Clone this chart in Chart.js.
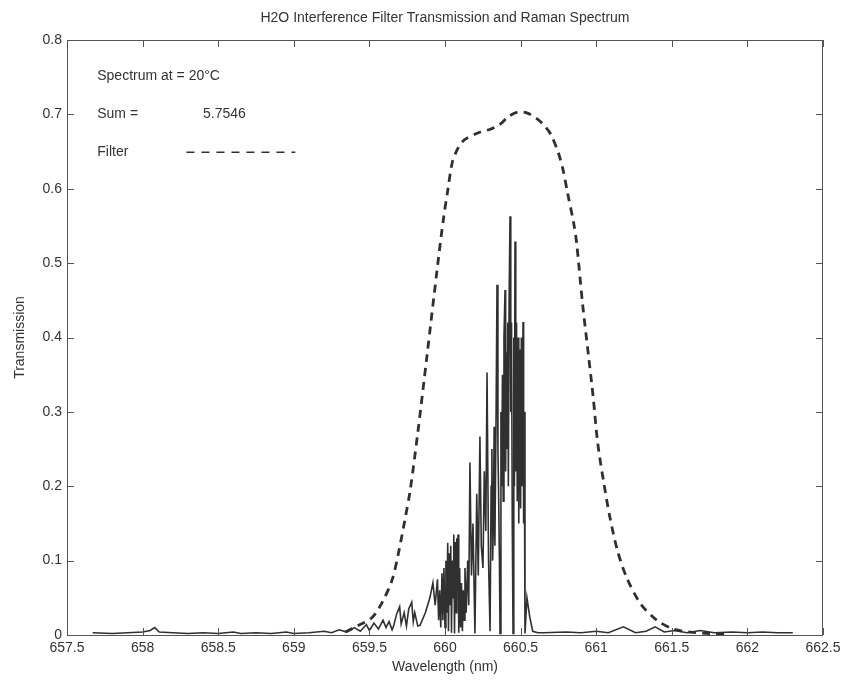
<!DOCTYPE html>
<html><head><meta charset="utf-8">
<script src="https://cdn.jsdelivr.net/npm/chart.js@4.4.0/dist/chart.umd.min.js"></script>
<style>html,body{margin:0;padding:0;background:#fff}#wrap{width:841px;height:684px}</style>
</head><body><div id="wrap"><canvas id="c" width="841" height="684"></canvas></div>
<script>
const titleText = 'H2O Interference Filter Transmission and Raman Spectrum';
const xTitle = 'Wavelength (nm)';
const yTitle = 'Transmission';
const xTicks = [657.5, 658, 658.5, 659, 659.5, 660, 660.5, 661, 661.5, 662, 662.5];
const yTicks = [0, 0.1, 0.2, 0.3, 0.4, 0.5, 0.6, 0.7, 0.8];

const filterWl = [659.34, 659.42, 659.52, 659.59, 659.65, 659.69, 659.735, 659.77, 659.82, 659.88, 659.95, 659.99, 660.02, 660.05, 660.09, 660.13, 660.23, 660.30, 660.36, 660.42, 660.48, 660.54, 660.61, 660.66, 660.70, 660.75, 660.78, 660.81, 660.85, 660.87, 660.91, 660.95, 660.98, 661.01, 661.05, 661.09, 661.14, 661.20, 661.29, 661.40, 661.51, 661.62, 661.75, 661.85];
const filterT = [0.004, 0.012, 0.024, 0.046, 0.074, 0.108, 0.155, 0.195, 0.272, 0.374, 0.495, 0.56, 0.60, 0.637, 0.656, 0.666, 0.676, 0.680, 0.686, 0.697, 0.703, 0.702, 0.694, 0.684, 0.673, 0.648, 0.626, 0.595, 0.555, 0.528, 0.445, 0.374, 0.320, 0.258, 0.205, 0.159, 0.114, 0.078, 0.043, 0.020, 0.008, 0.004, 0.002, 0.001];

const specWl = [
  657.67, 657.80, 657.90, 658.00, 658.05, 658.08, 658.11, 658.20, 658.30, 658.40, 658.50, 658.60, 658.65, 658.75, 658.85, 658.95, 659.00, 659.10, 659.20, 659.25,
  659.30, 659.35, 659.40, 659.44, 659.48, 659.50, 659.53, 659.56, 659.59, 659.61, 659.63, 659.65, 659.66, 659.68, 659.70, 659.71, 659.73, 659.745, 659.76, 659.78,
  659.79, 659.80, 659.82, 659.835, 659.87, 659.90, 659.92, 659.935, 659.95, 659.958, 659.965, 659.972, 659.98, 659.986, 659.993, 660.00, 660.006, 660.012, 660.018, 660.023,
  660.028, 660.033, 660.038, 660.043, 660.048, 660.053, 660.058, 660.063, 660.068, 660.073, 660.078, 660.082, 660.086, 660.091, 660.097, 660.103, 660.109, 660.115, 660.121, 660.127,
  660.132, 660.14, 660.15, 660.157, 660.165, 660.175, 660.185, 660.198, 660.21, 660.22, 660.231, 660.24, 660.251, 660.26, 660.27, 660.278, 660.288, 660.298, 660.305, 660.31,
  660.315, 660.32, 660.325, 660.33, 660.338, 660.344, 660.35, 660.354, 660.36, 660.364, 660.37, 660.375, 660.38, 660.385, 660.39, 660.397, 660.401, 660.405, 660.41, 660.415,
  660.419, 660.424, 660.43, 660.435, 660.44, 660.445, 660.45, 660.455, 660.459, 660.463, 660.468, 660.473, 660.478, 660.483, 660.488, 660.492, 660.496, 660.50, 660.505, 660.51,
  660.516, 660.52, 660.524, 660.529, 660.542, 660.56, 660.58, 660.615, 660.65, 660.80, 660.90, 661.00, 661.08, 661.18, 661.26, 661.33, 661.39, 661.45, 661.52, 661.60,
  661.69, 661.78, 661.90, 662.00, 662.10, 662.20, 662.30];
const specT = [
  0.003, 0.002, 0.003, 0.004, 0.006, 0.010, 0.004, 0.003, 0.002, 0.003, 0.002, 0.004, 0.002, 0.003, 0.002, 0.004, 0.002, 0.003, 0.005, 0.003,
  0.007, 0.004, 0.010, 0.005, 0.014, 0.006, 0.016, 0.008, 0.020, 0.010, 0.018, 0.007, 0.012, 0.028, 0.038, 0.015, 0.030, 0.012, 0.035, 0.044,
  0.018, 0.030, 0.012, 0.013, 0.030, 0.050, 0.070, 0.040, 0.075, 0.020, 0.060, 0.010, 0.083, 0.020, 0.090, 0.010, 0.100, 0.030, 0.124, 0.005,
  0.110, 0.040, 0.120, 0.003, 0.100, 0.050, 0.135, 0.002, 0.125, 0.030, 0.130, 0.060, 0.135, 0.003, 0.090, 0.010, 0.070, 0.005, 0.060, 0.020,
  0.090, 0.030, 0.100, 0.040, 0.232, 0.080, 0.150, 0.002, 0.190, 0.080, 0.267, 0.120, 0.090, 0.220, 0.140, 0.353, 0.100, 0.005, 0.200, 0.250,
  0.100, 0.150, 0.280, 0.120, 0.300, 0.471, 0.250, 0.200, 0.100, 0.002, 0.300, 0.200, 0.350, 0.180, 0.400, 0.464, 0.220, 0.380, 0.250, 0.420,
  0.200, 0.450, 0.563, 0.300, 0.420, 0.150, 0.002, 0.400, 0.200, 0.529, 0.220, 0.420, 0.180, 0.400, 0.150, 0.380, 0.384, 0.170, 0.400, 0.200,
  0.421, 0.150, 0.300, 0.002, 0.050, 0.025, 0.005, 0.003, 0.003, 0.004, 0.003, 0.005, 0.003, 0.011, 0.003, 0.005, 0.011, 0.004, 0.006, 0.003,
  0.006, 0.003, 0.004, 0.003, 0.004, 0.003, 0.003];

const notes = [
  {text: 'Spectrum at = 20°C', x: 657.70, y: 0.751},
  {text: 'Sum =', x: 657.70, y: 0.700},
  {text: '5.7546', x: 658.40, y: 0.700},
  {text: 'Filter', x: 657.70, y: 0.649}
];
const legendLine = {x0: 658.29, x1: 659.01, y: 0.649};

const INK = '#303030';
const TXT = '#333333';
const FONT = '"Liberation Sans", Arial, sans-serif';

const spectrumData = specWl.map((w, i) => ({x: w, y: specT[i]}));
const filterData = filterWl.map((w, i) => ({x: w, y: filterT[i]}));

const decor = {
  id: 'decor',
  afterDraw(chart) {
    const ctx = chart.ctx, a = chart.chartArea;
    const xs = chart.scales.x, ys = chart.scales.y;
    ctx.save();
    ctx.strokeStyle = '#555';
    ctx.lineWidth = 1;
    ctx.strokeRect(Math.round(a.left) + 0.5, Math.round(a.top) + 0.5, Math.round(a.right - a.left) - 1, Math.round(a.bottom - a.top));
    ctx.beginPath();
    xTicks.forEach(v => {
      const p = Math.round(xs.getPixelForValue(v)) + 0.5;
      ctx.moveTo(p, a.bottom); ctx.lineTo(p, a.bottom - 7);
      ctx.moveTo(p, a.top); ctx.lineTo(p, a.top + 7);
    });
    yTicks.forEach(v => {
      const p = Math.round(ys.getPixelForValue(v)) + 0.5;
      ctx.moveTo(a.left, p); ctx.lineTo(a.left + 7, p);
      ctx.moveTo(a.right, p); ctx.lineTo(a.right - 7, p);
    });
    ctx.stroke();
    ctx.fillStyle = TXT;
    ctx.font = '14px ' + FONT;
    ctx.textAlign = 'center';
    ctx.textBaseline = 'middle';
    ctx.fillText(titleText, (a.left + a.right) / 2, 18);
    ctx.textAlign = 'left';
    notes.forEach(n => ctx.fillText(n.text, xs.getPixelForValue(n.x), ys.getPixelForValue(n.y)));
    ctx.strokeStyle = INK;
    ctx.lineWidth = 1.5;
    ctx.setLineDash([8, 7]);
    ctx.beginPath();
    const ly = ys.getPixelForValue(legendLine.y);
    ctx.moveTo(xs.getPixelForValue(legendLine.x0), ly);
    ctx.lineTo(xs.getPixelForValue(legendLine.x1), ly);
    ctx.stroke();
    ctx.restore();
  }
};

new Chart(document.getElementById('c'), {
  type: 'line',
  data: {
    datasets: [
      {label: 'Spectrum', data: spectrumData, borderColor: INK, borderWidth: 1.6, pointRadius: 0, tension: 0, fill: false},
      {label: 'Filter', data: filterData, borderColor: INK, borderWidth: 2.8, borderDash: [8, 6], pointRadius: 0, tension: 0.3, fill: false}
    ]
  },
  options: {
    responsive: false,
    animation: false,
    devicePixelRatio: 1,
    layout: {padding: {left: 0, right: 18, top: 40, bottom: 0}},
    plugins: {legend: {display: false}, title: {display: false}, tooltip: {enabled: false}},
    scales: {
      x: {
        type: 'linear', min: 657.5, max: 662.5,
        afterBuildTicks: s => { s.ticks = xTicks.map(v => ({value: v})); },
        afterFit: s => { s.height = 49; s.paddingLeft = 0; s.paddingRight = 0; },
        grid: {display: false, drawTicks: false},
        border: {display: false},
        ticks: {color: TXT, font: {family: FONT, size: 14}, padding: 5, maxRotation: 0, autoSkip: false,
          callback: v => String(+(+v).toFixed(2))},
        title: {display: true, text: xTitle, color: TXT, font: {family: FONT, size: 14}, padding: {top: 0, bottom: 8.6}}
      },
      y: {
        type: 'linear', min: 0, max: 0.8,
        afterBuildTicks: s => { s.ticks = yTicks.map(v => ({value: v})); },
        afterFit: s => { s.width = 67; s.paddingTop = 0; s.paddingBottom = 0; },
        grid: {display: false, drawTicks: false},
        border: {display: false},
        ticks: {color: TXT, font: {family: FONT, size: 14}, padding: 5, autoSkip: false,
          callback: v => String(+(+v).toFixed(2))},
        title: {display: true, text: yTitle, color: TXT, font: {family: FONT, size: 14}, padding: {top: 11.6, bottom: 0}}
      }
    }
  },
  plugins: [decor]
});
</script>
</body></html>
